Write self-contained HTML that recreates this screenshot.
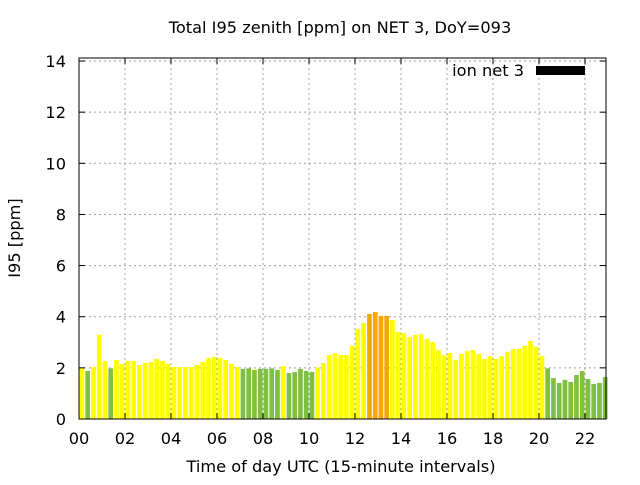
<!DOCTYPE html>
<html><head><meta charset="utf-8"><style>
body{margin:0;background:#fff}
svg text{font-family:"DejaVu Sans","Liberation Sans",sans-serif;fill:#000}
</style></head><body>
<svg id="c" width="640" height="480">
<text x="340" y="33" font-size="16.2" text-anchor="middle">Total I95 zenith [ppm] on NET 3, DoY=093</text>
<text x="341" y="472" font-size="16.2" text-anchor="middle">Time of day UTC (15-minute intervals)</text>
<text transform="translate(20,238) rotate(-90)" font-size="16.2" text-anchor="middle">I95 [ppm]</text>
<g id="grid"></g><g id="bars"></g><g id="ticks"></g>
<rect x="79" y="58" width="527" height="361" fill="none" stroke="#000" stroke-width="1"/>
<text x="524" y="76" font-size="16.2" text-anchor="end">ion net 3</text>
<rect x="536" y="66" width="49" height="9" fill="#000"/>
</svg>
<script>
const values=[2.02,1.88,2.03,3.29,2.27,1.98,2.31,2.15,2.27,2.27,2.11,2.19,2.23,2.35,2.27,2.15,2.03,2.03,2.03,2.03,2.11,2.23,2.39,2.43,2.39,2.31,2.15,2.03,1.96,1.98,1.92,1.96,1.96,1.98,1.92,2.07,1.80,1.84,1.96,1.88,1.84,2.02,2.19,2.50,2.58,2.50,2.50,2.86,3.52,3.75,4.11,4.18,4.03,4.03,3.87,3.40,3.36,3.21,3.29,3.32,3.13,3.01,2.70,2.50,2.58,2.31,2.54,2.66,2.70,2.54,2.35,2.46,2.35,2.46,2.62,2.74,2.74,2.86,3.05,2.82,2.46,1.98,1.60,1.41,1.53,1.45,1.72,1.88,1.56,1.37,1.41,1.64];
const yTicks=[0,2,4,6,8,10,12,14];
const xTicks=[0,2,4,6,8,10,12,14,16,18,20,22];
const xTickLabels=["00","02","04","06","08","10","12","14","16","18","20","22"];
const X0=79,X1=606,Y0=419,pxPerHour=23,pxPerUnit=25.57;
const xs=h=>X0+h*pxPerHour;
const ys=v=>Y0-v*pxPerUnit;
const NS="http://www.w3.org/2000/svg";
const mk=(t,a,p)=>{const e=document.createElementNS(NS,t);for(const k in a)e.setAttribute(k,a[k]);p.appendChild(e);return e;};
const grid=document.getElementById('grid'),bars=document.getElementById('bars'),ticks=document.getElementById('ticks');
yTicks.forEach(v=>{
 const y=ys(v);
 if(v>0){const g=mk('line',{x1:X0,x2:X1,y1:y,y2:y,stroke:'#a0a0a0','stroke-dasharray':'2,3'},grid);
 
 }
 mk('line',{x1:X0,x2:X0+6,y1:y,y2:y,stroke:'#000'},ticks);
 mk('line',{x1:X1,x2:X1-6,y1:y,y2:y,stroke:'#000'},ticks);
 const t=mk('text',{x:X0-13,y:y+6,'font-size':16.2,'text-anchor':'end'},ticks);t.textContent=v;
 
 
});
xTicks.forEach((h,i)=>{
 const x=xs(h);
 if(h>0){const g=mk('line',{x1:x,x2:x,y1:58,y2:Y0,stroke:'#a0a0a0','stroke-dasharray':'2,3'},grid);
 
 }
 mk('line',{x1:x,x2:x,y1:Y0,y2:Y0-6,stroke:'#000'},ticks);
 mk('line',{x1:x,x2:x,y1:58,y2:64,stroke:'#000'},ticks);
 const t=mk('text',{x:x,y:444,'font-size':16.2,'text-anchor':'middle'},ticks);t.textContent=xTickLabels[i];
 
 
});
values.forEach((v,i)=>{
 const c=v>=4?'#ffa500':(v<2?'#80c040':'#ffff00');
 const x=xs(i*0.25)+0.6;
 const r=mk('rect',{x:x,y:ys(v),width:4.7,height:Y0-ys(v),fill:c},bars);
 
 
});
</script>
</body></html>
